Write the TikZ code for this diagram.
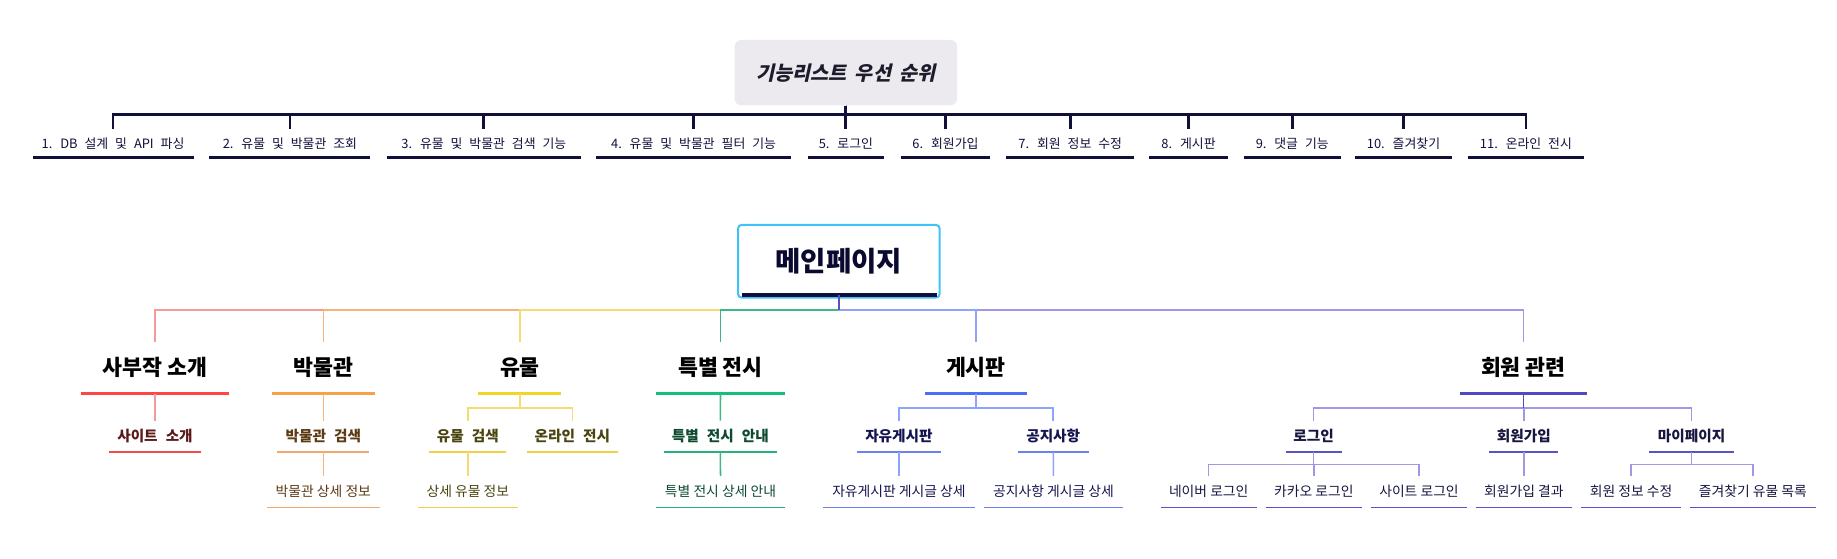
\documentclass[tikz,border=0pt]{standalone}
\usepackage{fontspec}
\setmainfont{Noto Sans CJK KR}
\newfontfamily\prioface[WordSpace=2.2]{Noto Sans CJK KR}
\newfontfamily\rootface[FakeSlant=0.22,WordSpace=1.8]{Noto Sans CJK KR}
\newfontfamily\stepface[WordSpace=2.4]{Noto Sans CJK KR}
\usetikzlibrary{calc}

\definecolor{navy}{HTML}{10103A}
\definecolor{rootgray}{HTML}{ECEAEE}
\definecolor{inkdark}{HTML}{1C1C2C}
\definecolor{mainink}{HTML}{0A0A30}
\definecolor{mainrim}{HTML}{3FC2F7}
\definecolor{mainstem}{HTML}{5A50C0}
\definecolor{sapuL}{HTML}{F59A9A}\definecolor{sapuS}{HTML}{FF4545}\definecolor{sapuM}{HTML}{F04C4C}\definecolor{sapuT}{HTML}{5A1818}
\definecolor{musL}{HTML}{F5B47C}\definecolor{musS}{HTML}{F7A24A}\definecolor{musM}{HTML}{F0A86E}\definecolor{musT}{HTML}{5C3A14}
\definecolor{relicL}{HTML}{F6DC70}\definecolor{relicS}{HTML}{F2D425}\definecolor{relicM}{HTML}{F0D048}\definecolor{relicT}{HTML}{4A4410}
\definecolor{specL}{HTML}{3DB882}\definecolor{specS}{HTML}{12C07C}\definecolor{specM}{HTML}{22B47A}\definecolor{specT}{HTML}{0D4A30}
\definecolor{boardL}{HTML}{90A2FF}\definecolor{boardS}{HTML}{4A6EF8}\definecolor{boardM}{HTML}{6C80F0}\definecolor{boardT}{HTML}{141452}
\definecolor{memL}{HTML}{9E99E2}\definecolor{memS}{HTML}{5049C4}\definecolor{memM}{HTML}{5A53C8}\definecolor{memT}{HTML}{161640}

\begin{document}
\begin{tikzpicture}[x=1pt, y=-1pt,
		ul/.style 2 args={append after command={(\tikzlastnode.south west) edge[draw=#1, line width=#2] (\tikzlastnode.south east)}},
		root/.style={rectangle, rounded corners=6pt, fill=rootgray, minimum width=190pt,
			minimum height=56pt, text=inkdark, font=\rootface\bfseries\fontsize{16.8pt}{20pt}\selectfont},
		prio/.style={inner sep=0pt, minimum width=#1, minimum height=24.6pt, text=navy,
			font=\prioface\fontsize{11pt}{13pt}\selectfont, ul={navy}{2.6pt}},
		mainbox/.style={rectangle, draw=mainrim, line width=1.7pt, rounded corners=3pt,
			minimum width=172pt, minimum height=62pt, text=mainink,
			font=\bfseries\fontsize{23.5pt}{28pt}\selectfont},
		lone/.style 2 args={inner sep=0pt, minimum width=#1, minimum height=44pt, text=black,
			font=\bfseries\fontsize{18.5pt}{22pt}\selectfont, ul={#2}{2.6pt}},
		ltwo/.style 2 args={inner sep=0pt, minimum width=#1, minimum height=26.2pt,
			font=\stepface\bfseries\fontsize{12.5pt}{15pt}\selectfont, ul={#2}{1.3pt}},
		lthree/.style 2 args={inner sep=0pt, minimum width=#1, minimum height=26.6pt,
			font=\fontsize{11.8pt}{14pt}\selectfont, ul={#2}{1.3pt}},
		topline/.style={draw=navy, line width=2.4pt},
		link/.style={draw=#1, line width=1.3pt}
	]
	\useasboundingbox (0,0) rectangle (1568,477);

	% priority list
	\node[root] (prioroot) at (722,62) {기능리스트 우선 순위};
	\node[prio=137pt] (p1) at (96.5,122.3) {1. DB 설계 및 API 파싱};
	\node[prio=137pt] (p2) at (247.5,122.3) {2. 유물 및 박물관 조회};
	\node[prio=165pt] (p3) at (413,122.3) {3. 유물 및 박물관 검색 기능};
	\node[prio=166pt] (p4) at (592,122.3) {4. 유물 및 박물관 필터 기능};
	\node[prio=65pt] (p5) at (722,122.3) {5. 로그인};
	\node[prio=76pt] (p6) at (807,122.3) {6. 회원가입};
	\node[prio=109pt] (p7) at (913.5,122.3) {7. 회원 정보 수정};
	\node[prio=67pt] (p8) at (1014.5,122.3) {8. 게시판};
	\node[prio=82pt] (p9) at (1103,122.3) {9. 댓글 기능};
	\node[prio=82pt] (p10) at (1198,122.3) {10. 즐겨찾기};
	\node[prio=99pt] (p11) at (1302.5,122.3) {11. 온라인 전시};

	\foreach \p in {p1,p2,p3,p4,p5,p6,p7,p8,p9,p10,p11}
		\draw[topline] (prioroot.south) -- ++(0,7.8) -| (\p.north);
	\draw[navy, line width=3pt] (p1.north |- 0,97.8) -- (p11.north |- 0,97.8);

	% site map
	\node[mainbox] (main) at (716,223) {메인페이지};
	\draw[navy, line width=2.8pt] ([shift={(4pt,3pt)}]main.south west) -- ([shift={(-3pt,3pt)}]main.south east);

	\node[lone={126.5pt}{sapuS}] (sapu) at (132.3,313.7) {사부작 소개};
	\node[lone={87pt}{musS}] (mus) at (276,313.7) {박물관};
	\node[lone={70.4pt}{relicS}] (relic) at (443.8,313.7) {유물};
	\node[lone={110pt}{specS}] (spec) at (615,313.7) {특별 전시};
	\node[lone={87pt}{boardS}] (board) at (833,313.7) {게시판};
	\node[lone={108.6pt}{memS}] (member) at (1300.3,313.7) {회원 관련};

	\node[ltwo={77.5pt}{sapuM}, text=sapuT] (siteinfo) at (132.3,372.4) {사이트 소개};
	\node[ltwo={78pt}{musM}, text=musT] (musfind) at (276,372.4) {박물관 검색};
	\node[ltwo={65.5pt}{relicM}, text=relicT] (relicfind) at (399.3,372.4) {유물 검색};
	\node[ltwo={77pt}{relicM}, text=relicT] (online) at (488.5,372.4) {온라인 전시};
	\node[ltwo={95.7pt}{specM}, text=specT] (specinfo) at (614.9,372.4) {특별 전시 안내};
	\node[ltwo={71.5pt}{boardM}, text=boardT] (freeboard) at (767.3,372.4) {자유게시판};
	\node[ltwo={60pt}{boardM}, text=boardT] (notice) at (899,372.4) {공지사항};
	\node[ltwo={47.5pt}{memM}, text=memT] (login) at (1121.3,372.4) {로그인};
	\node[ltwo={58.6pt}{memM}, text=memT] (join) at (1300.7,372.4) {회원가입};
	\node[ltwo={72pt}{memM}, text=memT] (mypage) at (1443.9,372.4) {마이페이지};

	\node[lthree={96pt}{musM}, text=musT] (musdetail) at (276,419.7) {박물관 상세 정보};
	\node[lthree={85pt}{relicM}, text=relicT] (relicdetail) at (399.3,419.7) {상세 유물 정보};
	\node[lthree={110pt}{specM}, text=specT] (specdetail) at (615,419.7) {특별 전시 상세 안내};
	\node[lthree={129pt}{boardM}, text=boardT] (freedetail) at (767.3,419.7) {자유게시판 게시글 상세};
	\node[lthree={118.3pt}{boardM}, text=boardT] (noticedetail) at (899.2,419.7) {공지사항 게시글 상세};
	\node[lthree={81.5pt}{memM}, text=memT] (naver) at (1031.7,419.7) {네이버 로그인};
	\node[lthree={81.6pt}{memM}, text=memT] (kakao) at (1121.4,419.7) {카카오 로그인};
	\node[lthree={81.5pt}{memM}, text=memT] (sitelogin) at (1211.2,419.7) {사이트 로그인};
	\node[lthree={81.4pt}{memM}, text=memT] (joinresult) at (1300.7,419.7) {회원가입 결과};
	\node[lthree={84.5pt}{memM}, text=memT] (editinfo) at (1392.2,419.7) {회원 정보 수정};
	\node[lthree={107pt}{memM}, text=memT] (favlist) at (1496.2,419.7) {즐겨찾기 유물 목록};

	% branches, outer ones first
	\draw[link=sapuL] (main.south) -- ++(0,9.7) -| (sapu.north);
	\draw[link=musL] (main.south) -- ++(0,9.7) -| (mus.north);
	\draw[link=relicL] (main.south) -- ++(0,9.7) -| (relic.north);
	\draw[link=specL] (main.south) -- ++(0,9.7) -| (spec.north);
	\draw[link=memL] (main.south) -- ++(0,9.7) -| (member.north);
	\draw[link=boardL] (main.south) -- ++(0,9.7) -| (board.north);
	\draw[link=mainstem] ([yshift=3pt]main.south) -- ++(0,12.7);

	\draw[link=sapuL] (sapu.south) -- (siteinfo.north);
	\draw[link=musL] (mus.south) -- (musfind.north);
	\draw[link=musL] (musfind.south) -- (musdetail.north);
	\draw[link=relicL] (relic.south) -- ++(0,12.3) -| (relicfind.north);
	\draw[link=relicL] (relic.south) -- ++(0,12.3) -| (online.north);
	\draw[link=relicL] (relicfind.south) -- (relicdetail.north);
	\draw[link=specL] (spec.south) -- (specinfo.north);
	\draw[link=specL] (specinfo.south) -- (specdetail.north);
	\draw[link=boardL] (board.south) -- ++(0,12.3) -| (freeboard.north);
	\draw[link=boardL] (board.south) -- ++(0,12.3) -| (notice.north);
	\draw[link=boardL] (freeboard.south) -- (freedetail.north);
	\draw[link=boardL] (notice.south) -- (noticedetail.north);
	\draw[link=memL] (member.south) -- ++(0,12.3) -| (login.north);
	\draw[link=memL] (member.south) -- ++(0,12.3) -| (join.north);
	\draw[link=memL] (member.south) -- ++(0,12.3) -| (mypage.north);
	\draw[link=memL] (login.south) -- ++(0,10.8) -| (naver.north);
	\draw[link=memL] (login.south) -- ++(0,10.8) -| (kakao.north);
	\draw[link=memL] (login.south) -- ++(0,10.8) -| (sitelogin.north);
	\draw[link=memL] (join.south) -- (joinresult.north);
	\draw[link=memL] (mypage.south) -- ++(0,10.8) -| (editinfo.north);
	\draw[link=memL] (mypage.south) -- ++(0,10.8) -| (favlist.north);
	\draw[link=memS] (member.south) -- ++(0,12.3);
\end{tikzpicture}
\end{document}
